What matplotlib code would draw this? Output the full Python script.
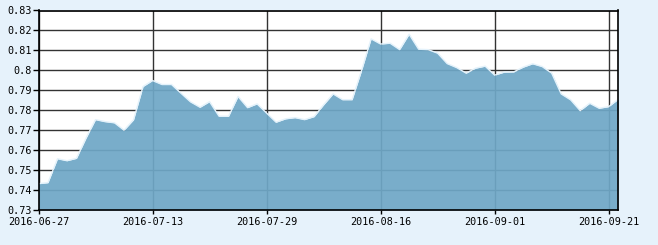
import matplotlib.pyplot as plt
import numpy as np

# trading days (2016), one point per session
dates = ["2016-06-27", "2016-06-28", "2016-06-29", "2016-06-30", "2016-07-01",
         "2016-07-04", "2016-07-05", "2016-07-06", "2016-07-07", "2016-07-08",
         "2016-07-11", "2016-07-12", "2016-07-13", "2016-07-14", "2016-07-15",
         "2016-07-18", "2016-07-19", "2016-07-20", "2016-07-21", "2016-07-22",
         "2016-07-25", "2016-07-26", "2016-07-27", "2016-07-28", "2016-07-29",
         "2016-08-01", "2016-08-02", "2016-08-03", "2016-08-04", "2016-08-05",
         "2016-08-08", "2016-08-09", "2016-08-10", "2016-08-11", "2016-08-12",
         "2016-08-15", "2016-08-16", "2016-08-17", "2016-08-18", "2016-08-19",
         "2016-08-22", "2016-08-23", "2016-08-24", "2016-08-25", "2016-08-26",
         "2016-08-29", "2016-08-30", "2016-08-31", "2016-09-01", "2016-09-02",
         "2016-09-05", "2016-09-06", "2016-09-07", "2016-09-08", "2016-09-09",
         "2016-09-12", "2016-09-13", "2016-09-14", "2016-09-19", "2016-09-20",
         "2016-09-21", "2016-09-22"]

values = [0.7432, 0.7437, 0.7557, 0.7547, 0.7559, 0.7660, 0.7753, 0.7743, 0.7737, 0.7700,
          0.7752, 0.7919, 0.7949, 0.7929, 0.7929, 0.7885, 0.7842, 0.7815, 0.7843, 0.7770,
          0.7770, 0.7869, 0.7813, 0.7832, 0.7786, 0.7740, 0.7757, 0.7763, 0.7753, 0.7768,
          0.7827, 0.7882, 0.7853, 0.7853, 0.8000, 0.8158, 0.8132, 0.8136, 0.8104, 0.8181,
          0.8106, 0.8104, 0.8086, 0.8034, 0.8014, 0.7986, 0.8011, 0.8021, 0.7976, 0.7991,
          0.7992, 0.8016, 0.8033, 0.8019, 0.7986, 0.7882, 0.7852, 0.7798, 0.7835, 0.7810,
          0.7818, 0.7855]

tick_dates = ["2016-06-27", "2016-07-13", "2016-07-29", "2016-08-16", "2016-09-01", "2016-09-21"]
y_ticks = [0.73, 0.74, 0.75, 0.76, 0.77, 0.78, 0.79, 0.80, 0.81, 0.82, 0.83]
y_labels = ["0.73", "0.74", "0.75", "0.76", "0.77", "0.78", "0.79", "0.8", "0.81", "0.82", "0.83"]

bg = "#e6f2fb"
x = np.arange(len(dates))

fig = plt.figure(figsize=(6.58, 2.45), dpi=100, facecolor=bg)
ax = fig.add_axes([38.5/658, 1 - 210/245, (618.2-38.5)/658, (210-10.5)/245])
ax.set_facecolor("white")

ax.fill_between(x, values, 0.73, color="#6fa7c6", alpha=0.93, lw=0, zorder=3)
ax.plot(x, values, color="#e4f2fb", lw=1.0, zorder=4)

ax.set_xlim(0, len(dates) - 1)
ax.set_ylim(0.73, 0.83)

tick_pos = [dates.index(d) for d in tick_dates]
ax.set_xticks(tick_pos)
ax.set_xticklabels(tick_dates)
ax.set_yticks(y_ticks)
ax.set_yticklabels(y_labels)

ax.grid(True, color="#333333", lw=1.0, zorder=1)
ax.set_axisbelow(True)
for s in ax.spines.values():
    s.set_color("black")
    s.set_linewidth(1.2)
    s.set_zorder(5)

ax.tick_params(axis="y", length=4, width=1, pad=1, labelsize=7.3, colors="black")
ax.tick_params(axis="x", length=3, width=1, pad=2, labelsize=7.3, colors="black")
for lab in ax.get_xticklabels() + ax.get_yticklabels():
    lab.set_family("DejaVu Sans Mono")

fig.savefig("out.png", dpi=100, facecolor=bg)
